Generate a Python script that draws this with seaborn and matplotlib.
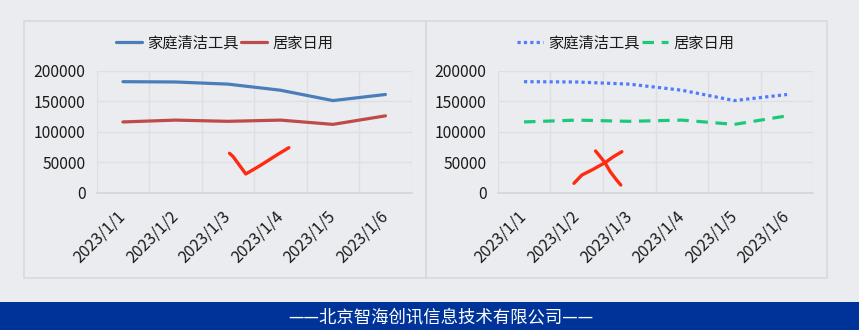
import matplotlib
matplotlib.use("Agg")
import matplotlib.pyplot as plt
import numpy as np
import pandas as pd
import seaborn as sns
from matplotlib.patches import Rectangle
from matplotlib.ticker import FixedLocator

# ---- data ----
dates = ["2023/1/1", "2023/1/2", "2023/1/3", "2023/1/4", "2023/1/5", "2023/1/6"]
cleaning_tools = [182000, 181500, 178000, 168000, 151000, 161000]
household_goods = [116000, 119000, 117000, 119000, 112000, 126000]
series_names = ["家庭清洁工具", "居家日用"]
y_ticks = [0, 50000, 100000, 150000, 200000]

# hand-drawn marks (category index, value)
check_x = [2.03, 2.10, 2.34, 2.61, 2.96, 3.16]
check_y = [64600, 59000, 30700, 44300, 63400, 73800]
cross_a_x = [0.95, 1.10, 1.29, 1.54, 1.70, 1.86]
cross_a_y = [15400, 29000, 37200, 49200, 59000, 67200]
cross_b_x = [1.36, 1.45, 1.54, 1.64, 1.76, 1.84]
cross_b_y = [68400, 59000, 49200, 34400, 20800, 12600]

footer = "——北京智海创讯信息技术有限公司——"

# ---- style ----
BG = "#ebecf0"
GRID = "#dedfe4"
BORDER = "#d8d9de"
sns.set_theme(style="white")
plt.rcParams["font.family"] = ["Noto Sans CJK SC", "DejaVu Sans"]
plt.rcParams["axes.unicode_minus"] = False

W, H = 859, 330
fig = plt.figure(figsize=(W / 100, H / 100), dpi=100, facecolor=BG)

def fx(px):
    return px / W

def fy(py):
    return 1 - py / H

df = pd.DataFrame({"idx": np.arange(len(dates)),
                   series_names[0]: cleaning_tools,
                   series_names[1]: household_goods})

# panel frames
for x0, x1 in [(23.5, 425.5), (425.5, 826.5)]:
    fig.patches.append(Rectangle((fx(x0), fy(277.5)), fx(x1 - x0), (277.5 - 20.5) / H,
                                 transform=fig.transFigure, fill=False,
                                 edgecolor=BORDER, lw=1.2, zorder=0))

ax_h = (192.7 - 70.7) / H
axes_specs = [
    dict(left=96.7, right=411.7, center=224.7,
         styles=[dict(color="#4a7ebb", ls="-"), dict(color="#be4b48", ls="-")],
         mark=[(check_x, check_y)]),
    dict(left=497.7, right=813.3, center=625.8,
         styles=[dict(color="#4d7cfe", ls=(0, (1, 1.0))), dict(color="#1cc97a", ls=(0, (3.6, 2.4)))],
         mark=[(cross_a_x, cross_a_y), (cross_b_x, cross_b_y)]),
]

for spec in axes_specs:
    ax = fig.add_axes([fx(spec["left"]), fy(192.7), fx(spec["right"] - spec["left"]), ax_h])
    ax.set_facecolor(BG)
    for name, st in zip(series_names, spec["styles"]):
        sns.lineplot(data=df, x="idx", y=name, ax=ax, label=name, color=st["color"],
                     linestyle=st["ls"], linewidth=2.3, dash_capstyle="butt")
    for mx, my in spec["mark"]:
        ax.plot(mx, my, color="#ff2a12", lw=2.4, solid_capstyle="round",
                solid_joinstyle="round", zorder=5)

    ax.set_xlim(-0.5, len(dates) - 0.5)
    ax.set_ylim(0, 200000)
    ax.set_yticks(y_ticks)
    ax.set_yticklabels([str(v) for v in y_ticks], fontsize=11.3, color="#1a1a1a")
    ax.xaxis.set_major_locator(FixedLocator(range(len(dates))))
    ax.set_xticklabels(dates, rotation=45, ha="right", va="center",
                       rotation_mode="anchor", fontsize=11.5, color="#1a1a1a")
    ax.xaxis.set_minor_locator(FixedLocator(np.arange(-0.5, len(dates), 1.0)))
    ax.tick_params(axis="both", which="both", length=0)
    ax.tick_params(axis="x", pad=15)
    ax.tick_params(axis="y", pad=8)
    ax.grid(True, axis="y", which="major", color=GRID, lw=1)
    ax.grid(True, axis="x", which="minor", color=GRID, lw=1)
    ax.set_axisbelow(True)
    ax.set_xlabel("")
    ax.set_ylabel("")
    for side in ["top", "right", "left"]:
        ax.spines[side].set_visible(False)
    ax.spines["bottom"].set_color("#d4d5da")
    ax.spines["bottom"].set_linewidth(1.2)

    handles, labels = ax.get_legend_handles_labels()
    ax.legend(handles[:2], labels[:2], loc="center",
              bbox_to_anchor=(fx(spec["center"]), fy(43)), bbox_transform=fig.transFigure,
              ncol=2, frameon=False, fontsize=11, handlelength=1.7,
              handletextpad=0.35, columnspacing=0.15, labelcolor="#1a1a1a")

# footer banner
fig.patches.append(Rectangle((0, 0), 1, 28 / H, transform=fig.transFigure,
                             facecolor="#003399", edgecolor="none", zorder=0))
fig.text(fx(441), fy(317), footer, color="white", fontsize=12.5,
         ha="center", va="center")

fig.savefig("out.png", dpi=100, facecolor=BG)
